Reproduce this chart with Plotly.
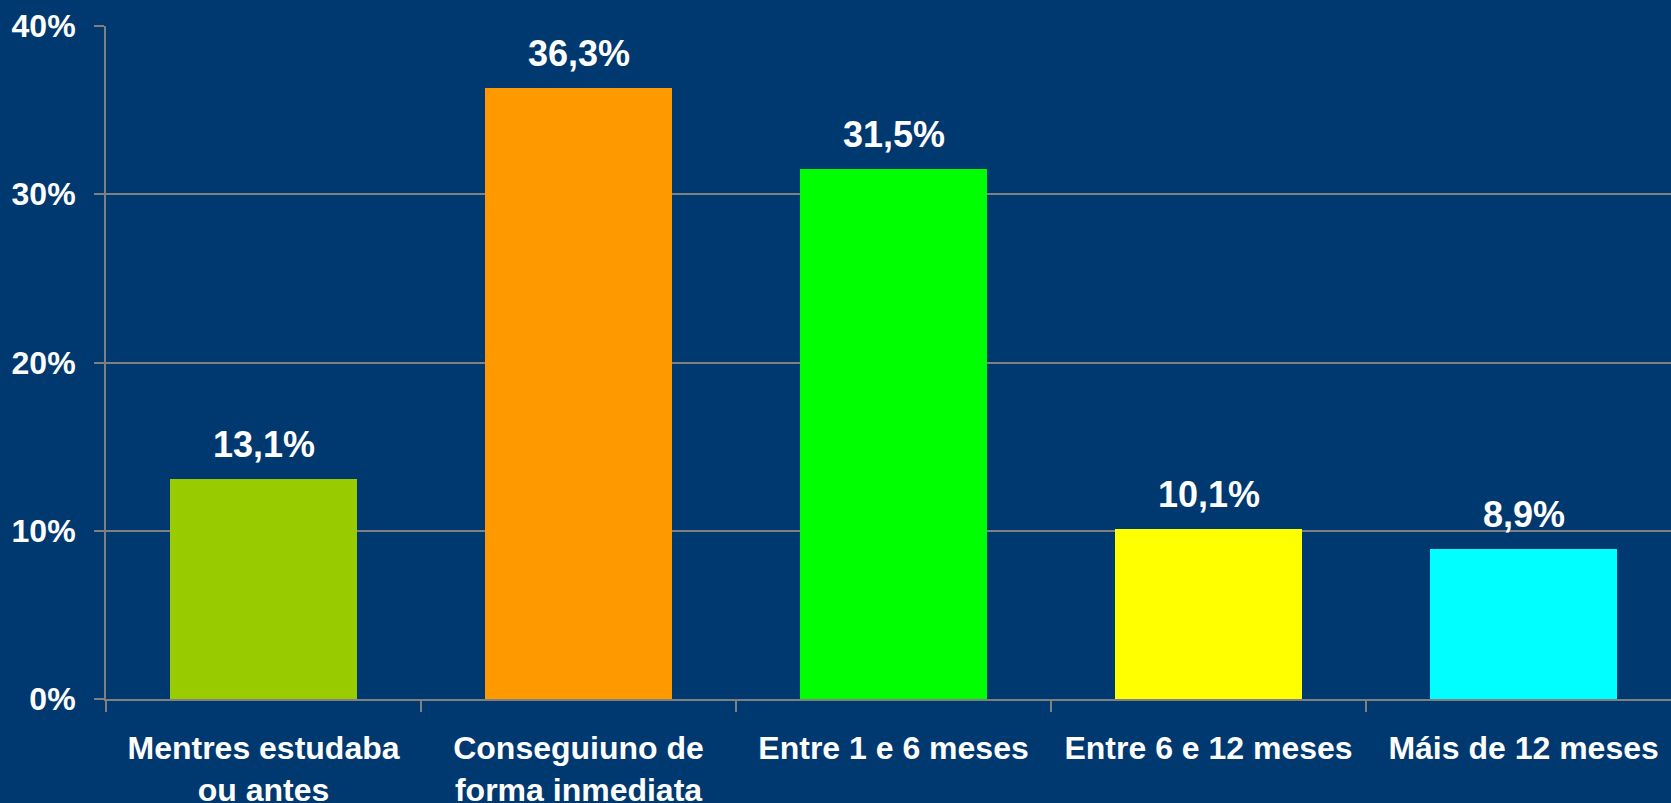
import plotly.graph_objects as go

categories = ["Mentres estudaba<br>ou antes", "Conseguiuno de<br>forma inmediata",
              "Entre 1 e 6 meses", "Entre 6 e 12 meses", "Máis de 12 meses"]
values = [13.1, 36.3, 31.5, 10.1, 8.9]
value_labels = ["13,1%", "36,3%", "31,5%", "10,1%", "8,9%"]
colors = ["#99CC00", "#FF9900", "#00FF00", "#FFFF00", "#00FFFF"]
y_ticks = [0, 10, 20, 30, 40]
y_tick_labels = ["0%", "10%", "20%", "30%", "40%"]

BG = "#003870"
GRID = "#808080"
FONT = "Liberation Sans"

fig = go.Figure()
fig.add_trace(go.Bar(x=list(range(len(categories))), y=values, marker=dict(color=colors, line=dict(width=0)),
                     width=0.594, hoverinfo="skip"))

for i, (v, t) in enumerate(zip(values, value_labels)):
    fig.add_annotation(x=i, y=v, text=t, showarrow=False, yanchor="bottom", yshift=12,
                       font=dict(family=FONT, size=36, color="white", weight="bold"))

fig.update_layout(
    width=1671, height=803,
    paper_bgcolor=BG, plot_bgcolor=BG,
    margin=dict(l=106, r=0, t=26, b=104),
    showlegend=False,
    bargap=0,
)
fig.update_xaxes(
    range=[-0.5, 4.468],
    tickmode="array", tickvals=list(range(len(categories))), ticktext=categories,
    showgrid=False, showline=True, linecolor=GRID, linewidth=2,
    ticks="",
    tickfont=dict(family=FONT, size=32, color="white", weight="bold"),
    ticklabelstandoff=20,
    zeroline=False,
    automargin=False,
    minor=dict(tickmode="array", tickvals=[-0.5, 0.5, 1.5, 2.5, 3.5],
               ticks="outside", ticklen=11, tickwidth=2, tickcolor=GRID, showgrid=False),
)
fig.update_yaxes(
    range=[0, 40],
    tickmode="array", tickvals=y_ticks, ticktext=y_tick_labels,
    showgrid=True, gridcolor=GRID, gridwidth=2,
    showline=True, linecolor=GRID, linewidth=2,
    ticks="outside", ticklen=10, tickwidth=2, tickcolor=GRID,
    tickfont=dict(family=FONT, size=32, color="white", weight="bold"),
    ticklabelstandoff=12,
    zeroline=False,
    automargin=False,
)

fig.write_html("out.html", config={"displayModeBar": False},
               post_script="document.body.style.margin='0px';document.body.style.background='%s';" % BG)
